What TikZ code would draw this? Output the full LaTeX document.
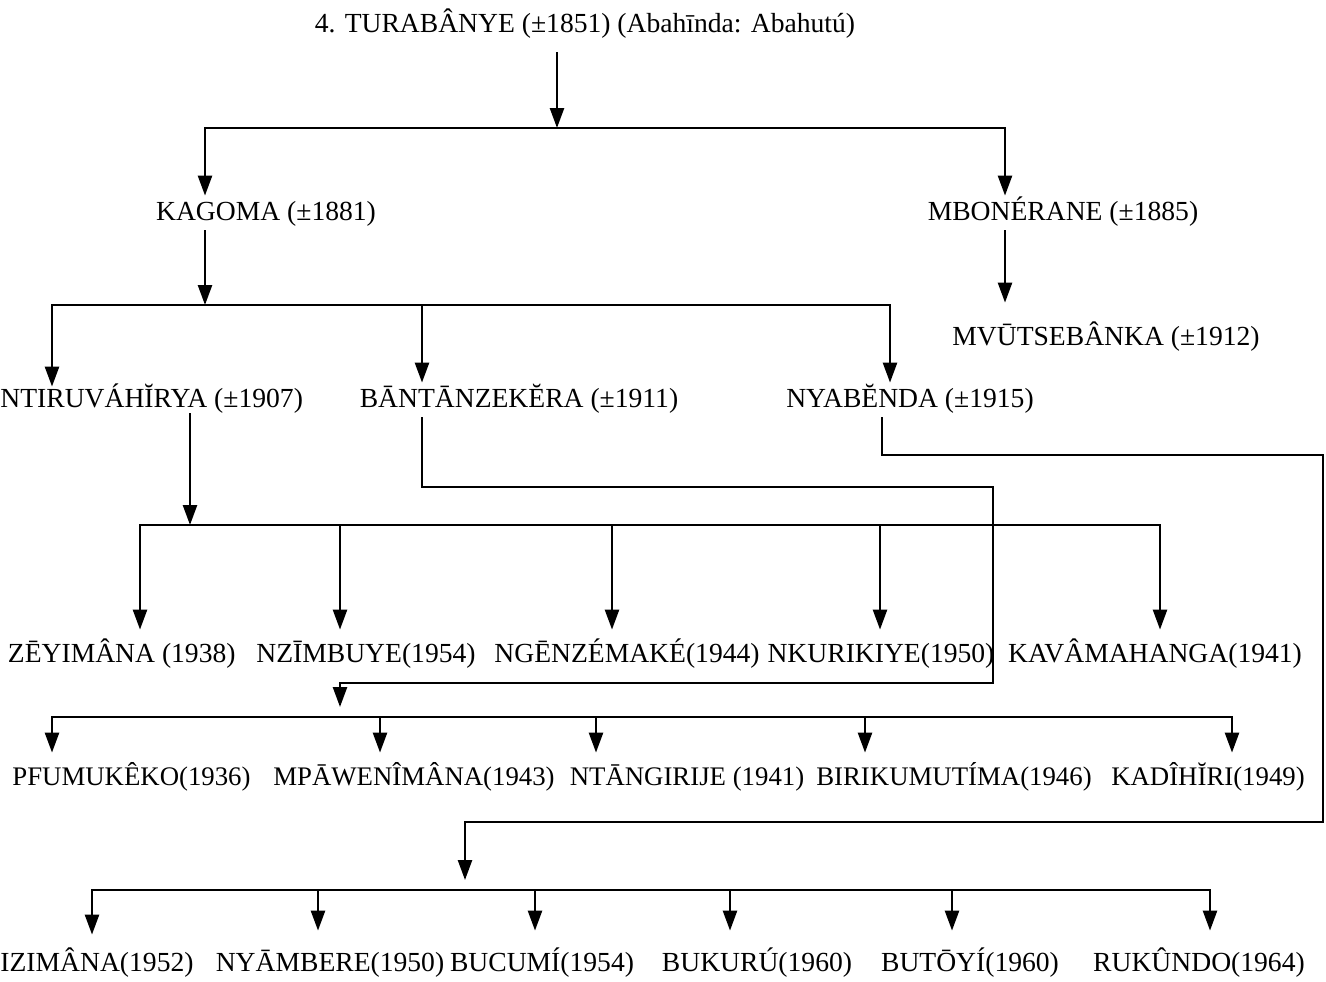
\documentclass[tikz,border=0pt]{standalone}
\usepackage{fontspec}
\setmainfont{Liberation Serif}
\usetikzlibrary{arrows.meta}

\begin{document}
\begin{tikzpicture}[x = 0.5pt, y = -0.5pt, every node/.style = {inner sep = 2pt, text height = 10pt, text depth = 3pt, font = \fontsize{13.8}{16}\selectfont}, small/.style = {font = \fontsize{13.4}{16}\selectfont}, link/.style = {line width = 1.25pt}, arr/.style = {link, -{Triangle[width = 7pt, length = 10pt]}}]

	\useasboundingbox (0, 0) rectangle (1326, 981);

	\node (top)       at ( 585,  25) {4. TURABÂNYE (±1851) (Abahīnda: Abahutú)};
	\node (kagoma)    at ( 266, 213) {KAGOMA (±1881)};
	\node (mbonerane) at (1063, 213) {MBONÉRANE (±1885)};
	\node (mvutse)    at (1106, 338) {MVŪTSEBÂNKA (±1912)};
	\node (ntiru)     at (   0, 400) [anchor = west, inner sep = 0pt] {NTIRUVÁHĬRYA (±1907)};
	\node (bantan)    at ( 519, 400) {BĀNTĀNZEKĔRA (±1911)};
	\node (nyabenda)  at ( 910, 400) {NYABĔNDA (±1915)};

	\node (nzey)      at ( 240, 655) [anchor = east] {ZĒYIMÂNA (1938)};
	\node (nzimbuye)  at ( 366, 655) {NZĪMBUYE(1954)};
	\node (ngenz)     at ( 627, 655) {NGĒNZÉMAKÉ(1944)};
	\node (nkuri)     at ( 881, 655) {NKURIKIYE(1950)};
	\node (kavama)    at (1155, 655) {KAVÂMAHANGA(1941)};

	\node (pfumu)     at ( 255, 778) [anchor = east, small] {PFUMUKÊKO(1936)};
	\node (mpawe)     at ( 414, 778) [small] {MPĀWENÎMÂNA(1943)};
	\node (ntangi)    at ( 687, 778) [small] {NTĀNGIRIJE (1941)};
	\node (biriku)    at ( 954, 778) [small] {BIRIKUMUTÍMA(1946)};
	\node (kadihiri)  at (1208, 778) [small] {KADÎHĬRI(1949)};

	\node (izimana)   at (   0, 964) [anchor = west, inner sep = 0pt] {IZIMÂNA(1952)};
	\node (nyambere)  at ( 330, 964) {NYĀMBERE(1950)};
	\node (bucumi)    at ( 542, 964) {BUCUMÍ(1954)};
	\node (bukuru)    at ( 757, 964) {BUKURÚ(1960)};
	\node (butoyi)    at ( 970, 964) {BUTŌYÍ(1960)};
	\node (rukundo)   at (1199, 964) {RUKÛNDO(1964)};

	% bus points
	\coordinate (t1) at (557, 128);
	\coordinate (t2) at (205, 305);
	\coordinate (t3) at (190, 525);
	\coordinate (t4) at (340, 717);
	\coordinate (t5) at (465, 890);

	\draw[arr, shorten < = 5pt] (top.south -| t1) -- (t1);
	\draw[arr] (t1) -| (kagoma.north -| 205, 0);
	\draw[arr] (t1) -| (mbonerane.north -| 1005, 0);
	\draw[arr, shorten > = 9pt] (mbonerane.south -| 1005, 0) -- (mvutse.north -| 1005, 0);

	\draw[arr] (kagoma.south -| t2) -- (t2);
	\foreach \x/\to in {52/ntiru, 422/bantan, 890/nyabenda}
		\draw[arr] (t2) -| (\to.north -| \x, 0);

	\draw[arr] (ntiru.south -| t3) -- (t3);
	\foreach \x/\to in {140/nzey, 340/nzimbuye, 612/ngenz, 880/nkuri, 1160/kavama}
		\draw[arr, shorten > = 4pt] (t3) -| (\to.north -| \x, 0);

	\draw[arr, shorten > = 5pt] (bantan.south -| 422, 0) |- (993, 487) |- (340, 683) -- (t4);
	\foreach \x/\to in {52/pfumu, 380/mpawe, 596/ntangi, 865/biriku, 1232/kadihiri}
		\draw[arr, shorten > = 4pt] (t4) -| (\to.north -| \x, 0);

	\draw[arr, shorten > = 5pt] (nyabenda.south -| 882, 0) |- (1323, 455) |- (465, 822) -- (t5);
	\foreach \x/\to in {92/izimana, 318/nyambere, 535/bucumi, 730/bukuru, 952/butoyi, 1210/rukundo}
		\draw[arr, shorten > = 8pt] (t5) -| (\to.north -| \x, 0);
\end{tikzpicture}
\end{document}
